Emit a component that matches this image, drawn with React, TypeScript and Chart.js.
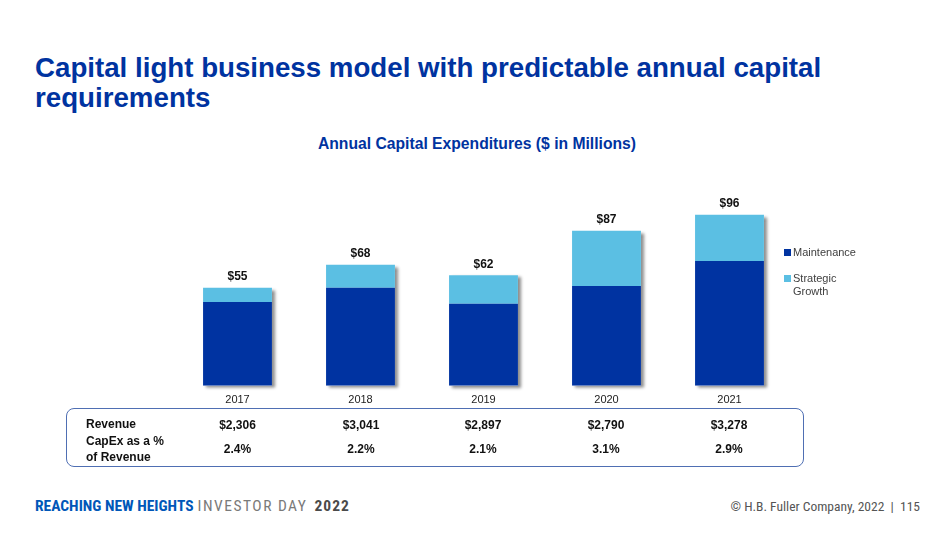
import React, { useEffect, useRef } from "react";
import { Chart, registerables } from "chart.js";

Chart.register(...registerables);

const years = ["2017", "2018", "2019", "2020", "2021"];
const maintenance = [47, 55, 46, 56, 70];
const strategicGrowth = [8, 13, 16, 31, 26];
const totalLabels = ["$55", "$68", "$62", "$87", "$96"];
const revenue = ["$2,306", "$3,041", "$2,897", "$2,790", "$3,278"];
const capexPct = ["2.4%", "2.2%", "2.1%", "3.1%", "2.9%"];

const DARK = "#0033A1";
const LIGHT = "#5BBFE3";
const FONT = "'Liberation Sans', Arial, Helvetica, sans-serif";
const NARROW = "'Liberation Sans Narrow', 'Roboto Condensed', 'Liberation Sans', Arial, sans-serif";

const shadowPlugin = {
  id: "barShadow",
  beforeDatasetsDraw(chart: any) {
    const ctx = chart.ctx;
    const m0 = chart.getDatasetMeta(0);
    const m1 = chart.getDatasetMeta(1);
    ctx.save();
    ctx.shadowColor = "rgba(0,0,0,0.45)";
    ctx.shadowBlur = 3;
    ctx.shadowOffsetX = 3;
    ctx.shadowOffsetY = 2;
    ctx.fillStyle = "#ffffff";
    m0.data.forEach((el: any, i: number) => {
      const top = m1.data[i];
      const w = el.width;
      ctx.fillRect(el.x - w / 2, top.y, w, el.base - top.y);
    });
    ctx.restore();
  },
};

const totalsPlugin = {
  id: "totals",
  afterDatasetsDraw(chart: any) {
    const ctx = chart.ctx;
    const m1 = chart.getDatasetMeta(1);
    ctx.save();
    ctx.font = `bold 12px ${FONT}`;
    ctx.fillStyle = "#111111";
    ctx.textAlign = "center";
    ctx.textBaseline = "bottom";
    m1.data.forEach((el: any, i: number) => {
      ctx.fillText(totalLabels[i], el.x, el.y - 5);
    });
    ctx.restore();
  },
};

export default function App() {
  const ref = useRef<HTMLCanvasElement>(null);

  useEffect(() => {
    if (!ref.current) return;
    const chart = new Chart(ref.current, {
      type: "bar",
      data: {
        labels: years,
        datasets: [
          { label: "Maintenance", data: maintenance, backgroundColor: DARK, borderWidth: 0 },
          { label: "Strategic Growth", data: strategicGrowth, backgroundColor: LIGHT, borderWidth: 0 },
        ],
      },
      options: {
        responsive: false,
        animation: false,
        maintainAspectRatio: false,
        layout: { padding: { left: 176, right: 159, top: 17, bottom: 3 } },
        plugins: { legend: { display: false }, tooltip: { enabled: false }, title: { display: false } },
        datasets: { bar: { categoryPercentage: 1, barPercentage: 0.56 } },
        scales: {
          x: {
            stacked: true,
            grid: { display: false },
            border: { display: false },
            ticks: { color: "#222222", font: { family: FONT, size: 11 }, padding: 0 },
          },
          y: { stacked: true, display: false, min: 0, max: 106 },
        },
      },
      plugins: [shadowPlugin, totalsPlugin],
    });
    return () => chart.destroy();
  }, []);

  const colCenters = [237.5, 361, 483, 606, 729];

  return (
    <div style={{ position: "fixed", left: 0, top: 0, width: 950, height: 534, background: "#fff", fontFamily: FONT, overflow: "hidden" }}>
      <div style={{ position: "absolute", left: 35, top: 53, fontSize: 27.7, lineHeight: "30px", fontWeight: "bold", color: "#0033A0", whiteSpace: "nowrap" }}>
        Capital light business model with predictable annual capital
        <br />
        requirements
      </div>
      <div style={{ position: "absolute", left: 0, width: 954, top: 135, textAlign: "center", fontSize: 15.7, lineHeight: "18px", fontWeight: "bold", color: "#0033A0" }}>
        Annual Capital Expenditures ($ in Millions)
      </div>
      <canvas ref={ref} width={950} height={230} style={{ position: "absolute", left: 0, top: 180, width: 950, height: 230 }} />
      <div style={{ position: "absolute", left: 784, top: 246, fontSize: 11, lineHeight: "13px", color: "#404040" }}>
        <div style={{ display: "flex", alignItems: "flex-start" }}>
          <span style={{ display: "inline-block", width: 7, height: 7, background: DARK, marginTop: 3, marginRight: 2 }} />
          <span>Maintenance</span>
        </div>
        <div style={{ display: "flex", alignItems: "flex-start", marginTop: 13 }}>
          <span style={{ display: "inline-block", width: 7, height: 7, background: LIGHT, marginTop: 3, marginRight: 2 }} />
          <span>Strategic<br />Growth</span>
        </div>
      </div>
      <div style={{ position: "absolute", left: 66, top: 408, width: 738, height: 59, border: "1px solid #4f6fb3", borderRadius: 8, boxSizing: "border-box" }} />
      <div style={{ position: "absolute", left: 86, top: 417, fontSize: 12, lineHeight: "14px", fontWeight: "bold", color: "#111" }}>Revenue</div>
      <div style={{ position: "absolute", left: 86, top: 433, fontSize: 12, lineHeight: "16px", fontWeight: "bold", color: "#111" }}>
        CapEx as a %<br />of Revenue
      </div>
      {revenue.map((r, i) => (
        <div key={"r" + i} style={{ position: "absolute", left: colCenters[i] - 50, width: 100, top: 418, textAlign: "center", fontSize: 12, lineHeight: "14px", fontWeight: "bold", color: "#111" }}>{r}</div>
      ))}
      {capexPct.map((r, i) => (
        <div key={"p" + i} style={{ position: "absolute", left: colCenters[i] - 50, width: 100, top: 442, textAlign: "center", fontSize: 12, lineHeight: "14px", fontWeight: "bold", color: "#111" }}>{r}</div>
      ))}
      <div style={{ position: "absolute", left: 35, top: 497, fontSize: 15.5, lineHeight: "18px", fontFamily: NARROW, whiteSpace: "nowrap" }}>
        <span style={{ fontWeight: "bold", color: "#0057B8" }}>REACHING NEW HEIGHTS</span>
        <span style={{ color: "#7a7a7a", letterSpacing: 1.5, marginLeft: 4 }}>INVESTOR DAY</span>
        <span style={{ fontWeight: "bold", color: "#4a4a4a", marginLeft: 7, letterSpacing: 1 }}>2022</span>
      </div>
      <div style={{ position: "absolute", right: 30, top: 497, fontSize: 13.5, lineHeight: "18px", fontFamily: NARROW, color: "#555", whiteSpace: "nowrap" }}>
        © H.B. Fuller Company, 2022 &nbsp;|&nbsp; 115
      </div>
    </div>
  );
}
